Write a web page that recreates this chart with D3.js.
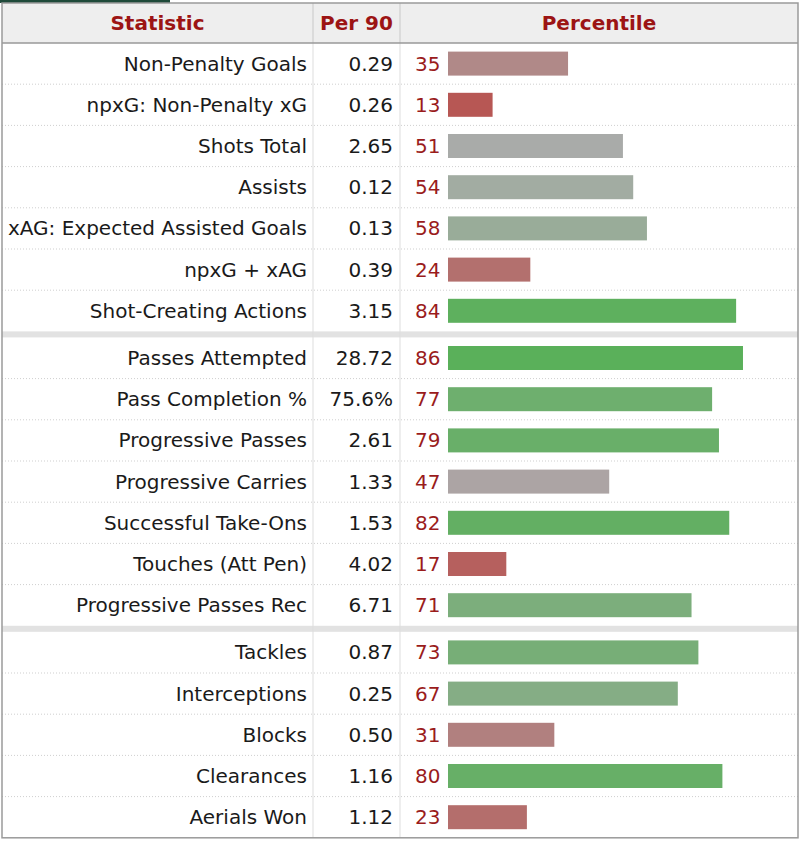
<!DOCTYPE html>
<html><head><meta charset="utf-8">
<script src="https://cdn.jsdelivr.net/npm/d3@7"></script>
<style>body{margin:0;background:#fff}svg{display:block}text{font-family:"DejaVu Sans",Verdana,sans-serif}</style>
</head><body><svg id="c" width="800" height="842"></svg>
<script>
const headers = ["Statistic", "Per 90", "Percentile"];
const stats = ["Non-Penalty Goals","npxG: Non-Penalty xG","Shots Total","Assists","xAG: Expected Assisted Goals","npxG + xAG","Shot-Creating Actions",
  "Passes Attempted","Pass Completion %","Progressive Passes","Progressive Carries","Successful Take-Ons","Touches (Att Pen)","Progressive Passes Rec",
  "Tackles","Interceptions","Blocks","Clearances","Aerials Won"];
const per90 = ["0.29","0.26","2.65","0.12","0.13","0.39","3.15",
  "28.72","75.6%","2.61","1.33","1.53","4.02","6.71",
  "0.87","0.25","0.50","1.16","1.12"];
const percentile = [35,13,51,54,58,24,84, 86,77,79,47,82,17,71, 73,67,31,80,23];
const groups = [0,0,0,0,0,0,0, 1,1,1,1,1,1,1, 2,2,2,2,2];

const svg = d3.select("#c");
const L = 2, R = 798, col1 = 313, col2 = 400;
const headTop = 3, headBot = 43, rowH = 41.2, sepH = 6;
const groupStart = [headBot, headBot + 7*rowH + sepH, headBot + 14*rowH + 2*sepH];
const groupFirst = [0, 7, 14];
const yTop = i => groupStart[groups[i]] + (i - groupFirst[groups[i]]) * rowH;
const x = d3.scaleLinear().domain([0, 100]).range([448, 448 + 343]);
const color = d3.scaleLinear().domain([0, 50, 100]).range(["#bb3a36", "#ababab", "#3ab23a"]);
const bottom = yTop(stats.length - 1) + rowH;

// green tab
svg.append("rect").attr("x", 0).attr("y", 0).attr("width", 170).attr("height", 3).attr("fill", "#1f4a3a");
// header bg
svg.append("rect").attr("x", L).attr("y", headTop).attr("width", R - L).attr("height", headBot - headTop).attr("fill", "#eeeeee");
// separators bands
[1, 2].forEach(g => {
  svg.append("rect").attr("x", L).attr("y", groupStart[g] - sepH).attr("width", R - L).attr("height", sepH).attr("fill", "#e2e2e2");
});
// dotted row lines
stats.forEach((s, i) => {
  const next = i + 1;
  if (next < stats.length && groups[next] === groups[i]) {
    svg.append("line").attr("x1", L).attr("x2", R).attr("y1", yTop(i) + rowH).attr("y2", yTop(i) + rowH)
      .attr("stroke", "#cfcfcf").attr("stroke-dasharray", "1,2");
  }
});
// column lines
[col1, col2].forEach(cx => {
  svg.append("line").attr("x1", cx).attr("x2", cx).attr("y1", headTop).attr("y2", headBot).attr("stroke", "#c8c8c8");
  svg.append("line").attr("x1", cx).attr("x2", cx).attr("y1", headBot).attr("y2", bottom).attr("stroke", "#dddddd");
});
// header bottom line
svg.append("line").attr("x1", L).attr("x2", R).attr("y1", headBot).attr("y2", headBot).attr("stroke", "#999").attr("stroke-width", 1.5);
// outer border
svg.append("rect").attr("x", L).attr("y", headTop).attr("width", R - L).attr("height", bottom - headTop)
  .attr("fill", "none").attr("stroke", "#9a9a9a").attr("stroke-width", 1.5);

// header text
const hx = [(L + col1) / 2, (col1 + col2) / 2, (col2 + R) / 2];
svg.selectAll("text.h").data(headers).join("text").attr("class", "h")
  .attr("x", (d, i) => hx[i]).attr("y", 30).attr("text-anchor", "middle")
  .attr("font-size", 20).attr("font-weight", "bold").attr("fill", "#9c1414").text(d => d);

const rows = svg.selectAll("g.r").data(stats).join("g").attr("class", "r")
  .attr("transform", (d, i) => `translate(0,${yTop(i) + rowH / 2})`);
rows.append("text").attr("x", 307).attr("y", 7).attr("text-anchor", "end")
  .attr("font-size", 20).attr("fill", "#1a1a1a").text(d => d);
rows.append("text").attr("x", 393).attr("y", 7).attr("text-anchor", "end")
  .attr("font-size", 20).attr("fill", "#1a1a1a").text((d, i) => per90[i]);
rows.append("text").attr("x", 415).attr("y", 7)
  .attr("font-size", 20).attr("fill", "#9a1c1c").text((d, i) => percentile[i]);
rows.append("rect").attr("x", x(0)).attr("y", -12).attr("height", 24)
  .attr("width", (d, i) => x(percentile[i]) - x(0))
  .attr("fill", (d, i) => color(percentile[i]));
</script></body></html>
